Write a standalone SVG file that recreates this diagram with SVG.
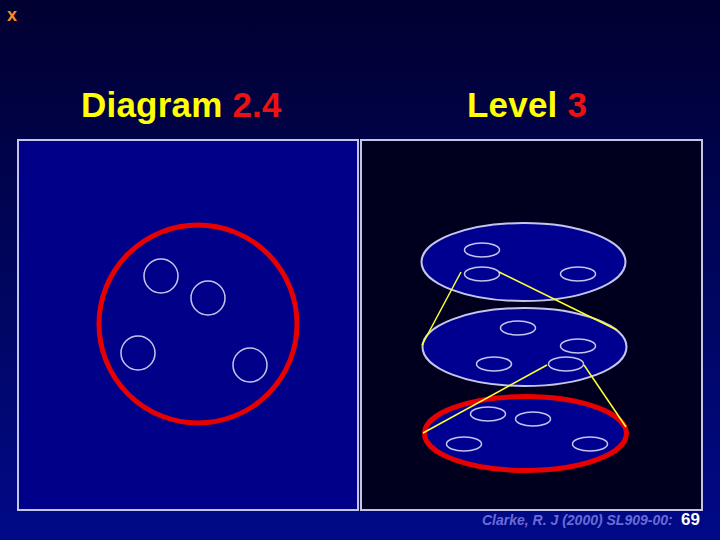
<svg xmlns="http://www.w3.org/2000/svg" width="720" height="540" viewBox="0 0 720 540">
<defs>
<linearGradient id="bg" x1="0" y1="0" x2="0" y2="1">
<stop offset="0" stop-color="#000030"/>
<stop offset="1" stop-color="#000a88"/>
</linearGradient>
<style>
.panel{stroke:#c4c4e8;stroke-width:2}
.small{fill:none;stroke:#c4c4ec;stroke-width:1.5}
.big{fill:#000090;stroke:#c4c4ec;stroke-width:2}
.red{stroke:#e80000;stroke-width:5}
.conn{stroke:#ffff33;stroke-width:1.5;fill:none}
.title{font-family:"Liberation Sans",Arial,sans-serif;font-weight:bold;font-size:35px;letter-spacing:0.2px}
</style>
</defs>
<rect width="720" height="540" fill="url(#bg)"/>
<text x="7" y="21" font-family="Liberation Sans,Arial,sans-serif" font-weight="bold" font-size="18" fill="#ff8822">x</text>
<text class="title" x="81" y="117"><tspan fill="#ffff00">Diagram </tspan><tspan fill="#ee1111">2.4</tspan></text>
<text class="title" x="467" y="117"><tspan fill="#ffff00">Level </tspan><tspan fill="#ee1111">3</tspan></text>
<g id="left-panel">
<rect class="panel" x="18" y="140" width="340" height="370" fill="#000088"/>
</g>
<g id="right-panel">
<rect class="panel" x="361" y="140" width="341" height="370" fill="#00001e"/>
</g>
<g id="system-circle">
<circle cx="198" cy="324" r="99" fill="none" class="red"/>
<circle class="small" cx="161" cy="276" r="17"/>
<circle class="small" cx="208" cy="298" r="17"/>
<circle class="small" cx="138" cy="353" r="17"/>
<circle class="small" cx="250" cy="365" r="17"/>
</g>
<g id="level-top">
<ellipse class="big" cx="523.5" cy="262" rx="102" ry="39"/>
<ellipse class="small" cx="482" cy="250" rx="17.5" ry="7"/>
<ellipse class="small" cx="482" cy="274" rx="17.5" ry="7"/>
<ellipse class="small" cx="578" cy="274" rx="17.5" ry="7"/>
</g>
<g id="level-middle">
<ellipse class="big" cx="524.5" cy="347" rx="102" ry="39"/>
<ellipse class="small" cx="518" cy="328" rx="17.5" ry="7"/>
<ellipse class="small" cx="578" cy="346" rx="17.5" ry="7"/>
<ellipse class="small" cx="494" cy="364" rx="17.5" ry="7"/>
<ellipse class="small" cx="566" cy="364" rx="17.5" ry="7"/>
</g>
<g id="level-bottom">
<ellipse cx="525.5" cy="433.5" rx="101" ry="37" fill="#000090" class="red"/>
<ellipse class="small" cx="488" cy="414" rx="17.5" ry="7"/>
<ellipse class="small" cx="533" cy="419" rx="17.5" ry="7"/>
<ellipse class="small" cx="464" cy="444" rx="17.5" ry="7"/>
<ellipse class="small" cx="590" cy="444" rx="17.5" ry="7"/>
</g>
<g id="connectors">
<line class="conn" x1="461" y1="272" x2="422" y2="345"/>
<line class="conn" x1="499" y1="272" x2="617" y2="330"/>
<line class="conn" x1="547" y1="365" x2="423" y2="433"/>
<line class="conn" x1="584" y1="365" x2="626" y2="427"/>
</g>
<text x="482" y="525" font-family="Liberation Sans,Arial,sans-serif" font-weight="bold" font-style="italic" font-size="14" fill="#6a6ad8">Clarke, R. J (2000) SL909-00:</text>
<text x="681" y="525" font-family="Liberation Sans,Arial,sans-serif" font-weight="bold" font-size="17" fill="#ffffff">69</text>
</svg>
